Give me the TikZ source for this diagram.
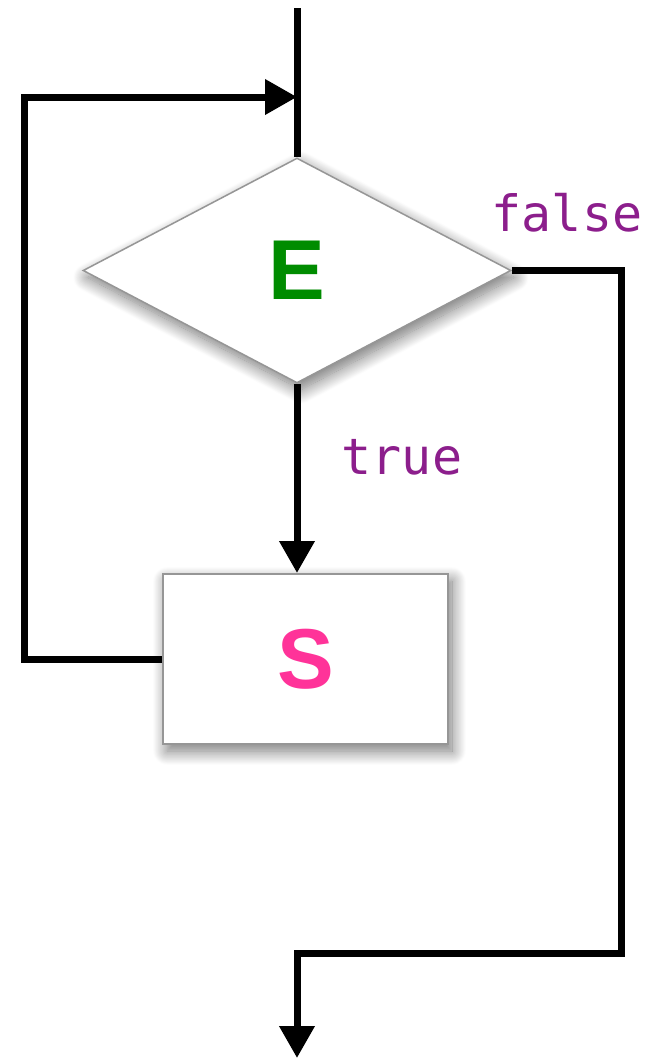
\documentclass[tikz,border=0pt]{standalone}
\usepackage{fontspec}
\setmainfont{Liberation Sans}
\newfontfamily\labelmono{DejaVu Sans Mono}
\usetikzlibrary{arrows.meta,shapes.geometric,shadows.blur}
\definecolor{egreen}{RGB}{0,140,0}
\definecolor{spink}{RGB}{255,51,153}
\definecolor{lblpurple}{RGB}{140,30,140}
\definecolor{bordergray}{RGB}{150,150,150}
\begin{document}
\begin{tikzpicture}[x=1pt,y=-1pt,
  flow/.style={line width=7pt, draw=black, line join=miter},
  tip/.style={-{Triangle[length=32pt,width=34pt]}},
  shad/.style={blur shadow={shadow xshift=4pt, shadow yshift=-7pt, shadow blur radius=14pt, shadow opacity=55, shadow blur steps=20}},
  decision/.style={diamond, draw=bordergray, line width=1.5pt, fill=white, shad,
    minimum width=428pt, minimum height=225pt, aspect=1.9, inner sep=0pt,
    font=\fontsize{85}{85}\selectfont\bfseries, text=egreen},
  process/.style={rectangle, draw=bordergray, line width=2pt, fill=white, shad,
    minimum width=285pt, minimum height=170pt, inner sep=0pt,
    font=\fontsize{85}{85}\selectfont\bfseries, text=spink},
  lbl/.style={font=\labelmono\fontsize{50}{50}\selectfont, text=lblpurple, inner sep=0pt}
]
\useasboundingbox (0,0) rectangle (656,1061);
\coordinate (top) at (297,8);
\coordinate (in) at (297,97);
\coordinate (out) at (297,1058);
\node[decision] (E) at (297,270.5) {E};
\node[process] (S) at (305.5,659) {S};
\node[lbl] (f) at (567,213) {false};
\node[lbl] (t) at (402,457) {true};
\draw[flow] (top) -- (E.north);
\draw[flow,tip] (E.south) -- (E.south |- S.north);
\draw[flow,tip] (S.west) -- ++(-138,0) |- (in);
\draw[flow,tip] (E.east) -| (621,953) -| (out);
\end{tikzpicture}
\end{document}
